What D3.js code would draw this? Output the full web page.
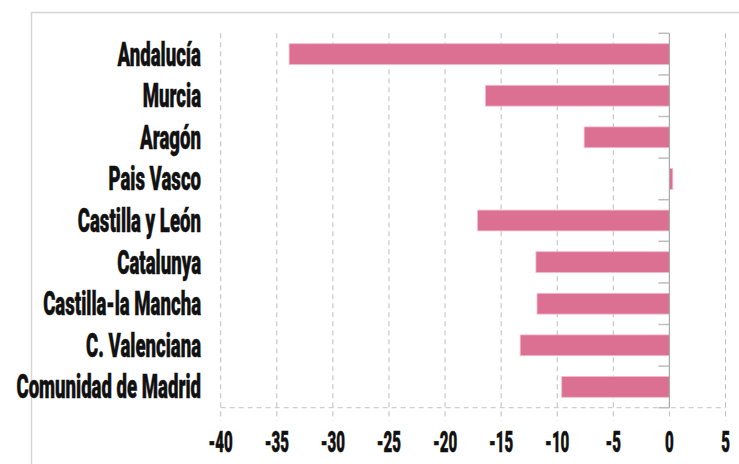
<!DOCTYPE html>
<html>
<head>
<meta charset="utf-8">
<script src="https://cdn.jsdelivr.net/npm/d3@7"></script>
<style>
  body { margin: 0; background: #fff; }
  text { font-family: Roboto, "Liberation Sans", sans-serif; font-weight: 900; fill: #111; stroke: #111; stroke-width: 0.5px; }
</style>
</head>
<body>
<div id="chart"></div>
<script>
var regiones = ["Andalucía", "Murcia", "Aragón", "Pais Vasco", "Castilla y León",
    "Catalunya", "Castilla-la Mancha", "C. Valenciana", "Comunidad de Madrid"];
var variacion = [-33.9, -16.4, -7.6, 0.3, -17.1, -11.9, -11.8, -13.3, -9.6];
var ticksX = [-40, -35, -30, -25, -20, -15, -10, -5, 0, 5];

var width = 739,
    height = 464;

var x = d3.scaleLinear()
    .domain([-40, 5])
    .range([220.7, 725.5]);

var y = d3.scaleBand()
    .domain(regiones)
    .range([33.3, 407.7])
    .paddingInner(0.5)
    .paddingOuter(0.25);

var svg = d3.select("#chart").append("svg")
    .attr("width", width)
    .attr("height", height);

// marco exterior
svg.append("path")
    .attr("d", "M31.5," + height + "V12.5H" + width)
    .attr("fill", "none")
    .attr("stroke", "#d6d6d6")
    .attr("stroke-width", 1.5);

var yTop = y.range()[0], yBottom = y.range()[1];

// rejilla vertical
svg.append("g").selectAll("line")
    .data(ticksX).enter()
    .append("line")
    .attr("x1", d => x(d)).attr("x2", d => x(d))
    .attr("y1", yTop).attr("y2", yBottom + 13)
    .attr("stroke", "#bdbdbd")
    .attr("stroke-dasharray", "5,4");

// linea base inferior
svg.append("line")
    .attr("x1", x(-40)).attr("x2", x(5))
    .attr("y1", yBottom).attr("y2", yBottom)
    .attr("stroke", "#c4c4c4")
    .attr("stroke-dasharray", "5,4");

// barras
svg.append("g").selectAll("rect")
    .data(variacion).enter()
    .append("rect")
    .attr("x", d => x(Math.min(0, d)))
    .attr("y", (d, i) => y(regiones[i]))
    .attr("width", d => Math.abs(x(d) - x(0)))
    .attr("height", y.bandwidth())
    .attr("fill", "#dc7092")
    .attr("stroke", "#f1bccb")
    .attr("stroke-width", 0.8);

// eje cero con marcas entre categorias
var bordes = d3.range(regiones.length + 1).map(i => yTop + i * y.step());
svg.append("line")
    .attr("x1", x(0)).attr("x2", x(0))
    .attr("y1", yTop).attr("y2", yBottom)
    .attr("stroke", "#a9a9a9")
    .attr("stroke-width", 1.2);
svg.append("g").selectAll("line")
    .data(bordes).enter()
    .append("line")
    .attr("x1", x(0) - 11).attr("x2", x(0))
    .attr("y1", d => d).attr("y2", d => d)
    .attr("stroke", "#bdbdbd")
    .attr("stroke-width", 1.5);

// etiquetas de categoria
svg.append("g").selectAll("text")
    .data(regiones).enter()
    .append("text")
    .attr("transform", d => "translate(201," + (y(d) + y.bandwidth() / 2 + 11.5) + ") scale(0.555,1)")
    .attr("text-anchor", "end")
    .style("font-size", "33.5px")
    .text(d => d);

// etiquetas del eje x
svg.append("g").selectAll("text")
    .data(ticksX).enter()
    .append("text")
    .attr("transform", d => "translate(" + x(d) + ",451.5) scale(0.52,1)")
    .attr("text-anchor", "middle")
    .style("font-size", "29px")
    .text(d => d);
</script>
</body>
</html>
